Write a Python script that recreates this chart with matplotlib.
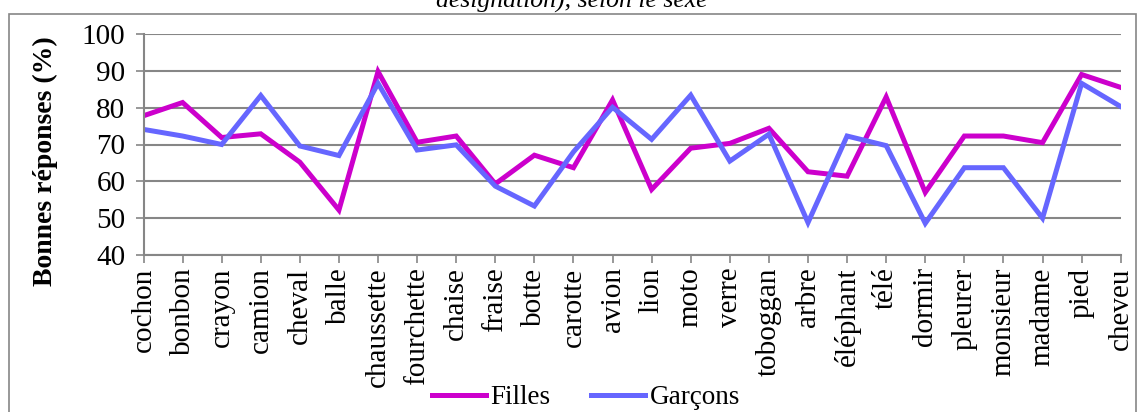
import matplotlib
matplotlib.use("Agg")
import matplotlib.pyplot as plt
from matplotlib.patches import Rectangle

categories = ["cochon", "bonbon", "crayon", "camion", "cheval", "balle", "chaussette",
              "fourchette", "chaise", "fraise", "botte", "carotte", "avion", "lion",
              "moto", "verre", "toboggan", "arbre", "éléphant", "télé", "dormir",
              "pleurer", "monsieur", "madame", "pied", "cheveu"]
filles = [77.8, 81.4, 71.9, 72.9, 65.2, 52.2, 89.8, 70.6, 72.3, 59.3, 67.1, 63.7, 82.1,
          57.8, 69.0, 70.3, 74.4, 62.6, 61.4, 82.9, 57.0, 72.3, 72.3, 70.5, 89.0, 85.5]
garcons = [74.1, 72.3, 70.0, 83.3, 69.6, 67.0, 86.6, 68.5, 69.9, 58.7, 53.3, 68.0, 80.1,
           71.4, 83.4, 65.5, 72.8, 48.8, 72.3, 69.7, 48.6, 63.7, 63.7, 50.0, 86.6, 80.3]
yticks = [40, 50, 60, 70, 80, 90, 100]

W, H = 1141, 412
plt.rcParams['font.family'] = ['Liberation Serif', 'DejaVu Serif']
fig = plt.figure(figsize=(W / 100, H / 100), dpi=100)

gray = "#868686"
# outer chart border
fig.patches.append(Rectangle((8.5 / W, -0.1), (1135.5 - 8.5) / W, 1.1 - 14.5 / H,
                             transform=fig.transFigure, fill=False, edgecolor=gray,
                             linewidth=1.2))

ax = fig.add_axes([143.5 / W, (H - 255) / H, (1120.7 - 143.5) / W, (255 - 34) / H])
x = list(range(len(categories)))
ax.plot(x, filles, color="#CC00CC", lw=3.6, label="Filles", solid_joinstyle="miter")
ax.plot(x, garcons, color="#6666FF", lw=3.6, label="Garçons", solid_joinstyle="miter")

ax.set_xlim(0, len(categories) - 1)
ax.set_ylim(40, 100)
ax.set_yticks(yticks)
ax.set_xticks(x)
ax.set_xticklabels(categories, rotation=90, fontsize=21)
ax.tick_params(axis='y', labelsize=21, length=6, width=1.2, color=gray, pad=7)
ax.tick_params(axis='x', length=6, width=1.2, color=gray, pad=3)
ax.grid(axis='y', color=gray, linewidth=1.5)
ax.set_axisbelow(True)
for s in ['top', 'right']:
    ax.spines[s].set_visible(False)
for s in ['left', 'bottom']:
    ax.spines[s].set_color(gray)
    ax.spines[s].set_linewidth(1.5)

fig.text(45 / W, (H - 161) / H, "Bonnes réponses (%)", rotation=90, fontsize=20,
         fontweight='bold', ha='center', va='center')
fig.text(572 / W, (H - 8) / H, "désignation), selon le sexe", fontsize=18.5,
         style='italic', ha='center', va='baseline')

fig.legend(loc='center', bbox_to_anchor=(586 / W, (H - 398) / H), ncol=2,
           frameon=False, fontsize=19.5, handlelength=2.0, columnspacing=1.5,
           handletextpad=0.15, borderaxespad=0)

fig.savefig("out.png", dpi=100)
